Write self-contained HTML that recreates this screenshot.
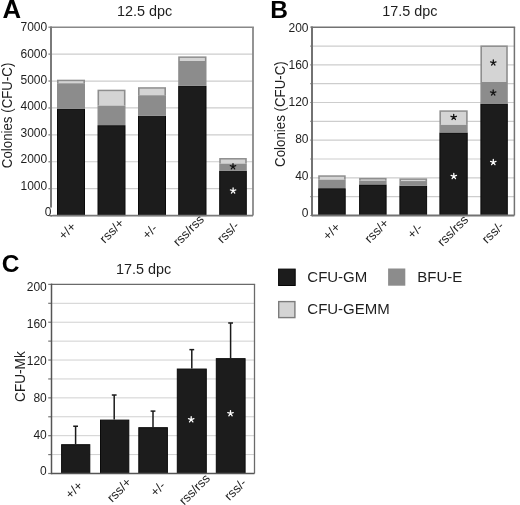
<!DOCTYPE html><html><head><meta charset="utf-8"><style>html,body{margin:0;padding:0;background:#fff;}svg{display:block;will-change:transform;}text{font-family:"Liberation Sans",sans-serif;fill:#1e1e1e;}</style></head><body>
<svg width="520" height="505" viewBox="0 0 520 505">
<rect width="520" height="505" fill="#fff"/>
<line x1="51" y1="188.69" x2="253" y2="188.69" stroke="#cdcdcd" stroke-width="1.2"/>
<line x1="51" y1="161.77" x2="253" y2="161.77" stroke="#cdcdcd" stroke-width="1.2"/>
<line x1="51" y1="134.86" x2="253" y2="134.86" stroke="#cdcdcd" stroke-width="1.2"/>
<line x1="51" y1="107.94" x2="253" y2="107.94" stroke="#cdcdcd" stroke-width="1.2"/>
<line x1="51" y1="81.03" x2="253" y2="81.03" stroke="#cdcdcd" stroke-width="1.2"/>
<line x1="51" y1="54.11" x2="253" y2="54.11" stroke="#cdcdcd" stroke-width="1.2"/>
<line x1="51" y1="27.2" x2="253.9" y2="27.2" stroke="#888" stroke-width="1.6"/>
<line x1="253" y1="27.2" x2="253" y2="215.6" stroke="#888" stroke-width="1.8"/>
<line x1="48.4" y1="215.60" x2="51" y2="215.60" stroke="#7a7a7a" stroke-width="1.2"/>
<line x1="48.4" y1="188.69" x2="51" y2="188.69" stroke="#7a7a7a" stroke-width="1.2"/>
<line x1="48.4" y1="161.77" x2="51" y2="161.77" stroke="#7a7a7a" stroke-width="1.2"/>
<line x1="48.4" y1="134.86" x2="51" y2="134.86" stroke="#7a7a7a" stroke-width="1.2"/>
<line x1="48.4" y1="107.94" x2="51" y2="107.94" stroke="#7a7a7a" stroke-width="1.2"/>
<line x1="48.4" y1="81.03" x2="51" y2="81.03" stroke="#7a7a7a" stroke-width="1.2"/>
<line x1="48.4" y1="54.11" x2="51" y2="54.11" stroke="#7a7a7a" stroke-width="1.2"/>
<line x1="48.4" y1="27.20" x2="51" y2="27.20" stroke="#7a7a7a" stroke-width="1.2"/>
<rect x="57.5" y="109.41" width="27.00" height="106.19" fill="#1c1c1c" stroke="#0a0a0a" stroke-width="1"/>
<rect x="57" y="83.18" width="28.00" height="25.73" fill="#8c8c8c"/>
<rect x="57" y="79.68" width="28.00" height="3.50" fill="#8e8e8e"/>
<rect x="58.6" y="81.18" width="24.80" height="2.00" fill="#d4d4d4"/>
<rect x="98.0" y="125.67" width="27.00" height="89.93" fill="#1c1c1c" stroke="#0a0a0a" stroke-width="1"/>
<rect x="97.5" y="105.66" width="28.00" height="19.51" fill="#8c8c8c"/>
<rect x="97.5" y="89.67" width="28.00" height="15.99" fill="#8e8e8e"/>
<rect x="99.1" y="91.17" width="24.80" height="14.49" fill="#d4d4d4"/>
<rect x="138.5" y="116.17" width="27.00" height="99.43" fill="#1c1c1c" stroke="#0a0a0a" stroke-width="1"/>
<rect x="138" y="95.16" width="28.00" height="20.51" fill="#8c8c8c"/>
<rect x="138" y="87.19" width="28.00" height="7.97" fill="#8e8e8e"/>
<rect x="139.6" y="88.69" width="24.80" height="6.47" fill="#d4d4d4"/>
<rect x="178.7" y="86.37" width="27.30" height="129.23" fill="#1c1c1c" stroke="#0a0a0a" stroke-width="1"/>
<rect x="178.2" y="61.00" width="28.30" height="24.87" fill="#8c8c8c"/>
<rect x="178.2" y="56.40" width="28.30" height="4.60" fill="#8e8e8e"/>
<rect x="179.79999999999998" y="57.90" width="25.10" height="3.10" fill="#d4d4d4"/>
<rect x="219.7" y="171.13" width="26.60" height="44.47" fill="#1c1c1c" stroke="#0a0a0a" stroke-width="1"/>
<rect x="219.2" y="163.63" width="27.60" height="7.00" fill="#8c8c8c"/>
<rect x="219.2" y="158.03" width="27.60" height="5.60" fill="#8e8e8e"/>
<rect x="220.79999999999998" y="159.53" width="24.40" height="4.10" fill="#d4d4d4"/>
<line x1="51" y1="26.4" x2="51" y2="216.4" stroke="#7a7a7a" stroke-width="2"/>
<line x1="51" y1="215.6" x2="253" y2="215.6" stroke="#7a7a7a" stroke-width="1.8"/>
<text x="47.2" y="185.75" text-anchor="end" dominant-baseline="central" font-size="12">1000</text>
<text x="47.2" y="159.30" text-anchor="end" dominant-baseline="central" font-size="12">2000</text>
<text x="47.2" y="132.85" text-anchor="end" dominant-baseline="central" font-size="12">3000</text>
<text x="47.2" y="106.40" text-anchor="end" dominant-baseline="central" font-size="12">4000</text>
<text x="47.2" y="79.95" text-anchor="end" dominant-baseline="central" font-size="12">5000</text>
<text x="47.2" y="53.50" text-anchor="end" dominant-baseline="central" font-size="12">6000</text>
<text x="47.2" y="27.05" text-anchor="end" dominant-baseline="central" font-size="12">7000</text>
<rect x="49" y="207.6" width="3.6" height="7.4" fill="#fff"/>
<text x="51.4" y="212.40" text-anchor="end" dominant-baseline="central" font-size="12">0</text>
<text transform="translate(70.30,233.90) rotate(-45)" text-anchor="middle" font-size="12.8">+/+</text>
<text transform="translate(114.80,233.95) rotate(-45)" text-anchor="middle" font-size="12.8">rss/+</text>
<text transform="translate(152.85,234.60) rotate(-45)" text-anchor="middle" font-size="12.8">+/-</text>
<text transform="translate(191.45,233.60) rotate(-45)" text-anchor="middle" font-size="12.8">rss/rss</text>
<text transform="translate(231.10,235.30) rotate(-45)" text-anchor="middle" font-size="12.8">rss/-</text>
<text x="144.5" y="15.5" text-anchor="middle" font-size="14.4">12.5 dpc</text>
<text transform="translate(11.9,115.4) rotate(-90) scale(1,1.05)" text-anchor="middle" font-size="13.3">Colonies (CFU-C)</text>
<text transform="translate(2.5,17.9) scale(1.05,1.05)" font-size="24.5" font-weight="bold" style="fill:#000">A</text>
<path d="M233.00 166.55L233.00 163.70M233.00 166.55L235.71 165.67M233.00 166.55L234.68 168.86M233.00 166.55L231.32 168.86M233.00 166.55L230.29 165.67" stroke="#111" stroke-width="1.3" stroke-linecap="round" fill="none"/>
<path d="M233.10 190.75L233.10 187.90M233.10 190.75L235.81 189.87M233.10 190.75L234.78 193.06M233.10 190.75L231.42 193.06M233.10 190.75L230.39 189.87" stroke="#fff" stroke-width="1.3" stroke-linecap="round" fill="none"/>
<line x1="312" y1="196.67" x2="514.4" y2="196.67" stroke="#cdcdcd" stroke-width="1.2"/>
<line x1="312" y1="177.84" x2="514.4" y2="177.84" stroke="#cdcdcd" stroke-width="1.2"/>
<line x1="312" y1="159.01" x2="514.4" y2="159.01" stroke="#cdcdcd" stroke-width="1.2"/>
<line x1="312" y1="140.18" x2="514.4" y2="140.18" stroke="#cdcdcd" stroke-width="1.2"/>
<line x1="312" y1="121.35" x2="514.4" y2="121.35" stroke="#cdcdcd" stroke-width="1.2"/>
<line x1="312" y1="102.52" x2="514.4" y2="102.52" stroke="#cdcdcd" stroke-width="1.2"/>
<line x1="312" y1="83.69" x2="514.4" y2="83.69" stroke="#cdcdcd" stroke-width="1.2"/>
<line x1="312" y1="64.86" x2="514.4" y2="64.86" stroke="#cdcdcd" stroke-width="1.2"/>
<line x1="312" y1="46.03" x2="514.4" y2="46.03" stroke="#cdcdcd" stroke-width="1.2"/>
<line x1="312" y1="27.2" x2="515.15" y2="27.2" stroke="#727272" stroke-width="1.5"/>
<line x1="514.4" y1="27.2" x2="514.4" y2="215.5" stroke="#727272" stroke-width="1.5"/>
<line x1="310.4" y1="215.50" x2="312" y2="215.50" stroke="#666" stroke-width="1.2"/>
<line x1="310.4" y1="196.67" x2="312" y2="196.67" stroke="#666" stroke-width="1.2"/>
<line x1="310.4" y1="177.84" x2="312" y2="177.84" stroke="#666" stroke-width="1.2"/>
<line x1="310.4" y1="159.01" x2="312" y2="159.01" stroke="#666" stroke-width="1.2"/>
<line x1="310.4" y1="140.18" x2="312" y2="140.18" stroke="#666" stroke-width="1.2"/>
<line x1="310.4" y1="121.35" x2="312" y2="121.35" stroke="#666" stroke-width="1.2"/>
<line x1="310.4" y1="102.52" x2="312" y2="102.52" stroke="#666" stroke-width="1.2"/>
<line x1="310.4" y1="83.69" x2="312" y2="83.69" stroke="#666" stroke-width="1.2"/>
<line x1="310.4" y1="64.86" x2="312" y2="64.86" stroke="#666" stroke-width="1.2"/>
<line x1="310.4" y1="46.03" x2="312" y2="46.03" stroke="#666" stroke-width="1.2"/>
<line x1="310.4" y1="27.20" x2="312" y2="27.20" stroke="#666" stroke-width="1.2"/>
<rect x="318.7" y="188.70" width="26.50" height="26.80" fill="#1c1c1c" stroke="#0a0a0a" stroke-width="1"/>
<rect x="318.2" y="179.72" width="27.50" height="8.47" fill="#8c8c8c"/>
<rect x="318.2" y="175.30" width="27.50" height="4.43" fill="#8e8e8e"/>
<rect x="319.8" y="176.80" width="24.30" height="2.93" fill="#d4d4d4"/>
<rect x="359.6" y="184.93" width="26.50" height="30.57" fill="#1c1c1c" stroke="#0a0a0a" stroke-width="1"/>
<rect x="359.1" y="180.66" width="27.50" height="3.77" fill="#8c8c8c"/>
<rect x="359.1" y="177.93" width="27.50" height="2.73" fill="#8e8e8e"/>
<rect x="360.70000000000005" y="179.43" width="24.30" height="1.23" fill="#d4d4d4"/>
<rect x="399.9" y="186.15" width="26.70" height="29.35" fill="#1c1c1c" stroke="#0a0a0a" stroke-width="1"/>
<rect x="399.4" y="181.04" width="27.70" height="4.61" fill="#8c8c8c"/>
<rect x="399.4" y="178.40" width="27.70" height="2.64" fill="#8e8e8e"/>
<rect x="401.0" y="179.90" width="24.50" height="1.14" fill="#d4d4d4"/>
<rect x="439.9" y="132.96" width="27.30" height="82.54" fill="#1c1c1c" stroke="#0a0a0a" stroke-width="1"/>
<rect x="439.4" y="124.93" width="28.30" height="7.53" fill="#8c8c8c"/>
<rect x="439.4" y="110.33" width="28.30" height="14.59" fill="#8e8e8e"/>
<rect x="441.0" y="111.83" width="25.10" height="13.09" fill="#d4d4d4"/>
<rect x="480.9" y="104.06" width="26.40" height="111.44" fill="#1c1c1c" stroke="#0a0a0a" stroke-width="1"/>
<rect x="480.4" y="82.00" width="27.40" height="21.56" fill="#8c8c8c"/>
<rect x="480.4" y="45.47" width="27.40" height="36.53" fill="#8e8e8e"/>
<rect x="482.0" y="46.97" width="24.20" height="35.03" fill="#d4d4d4"/>
<line x1="312" y1="26.4" x2="312" y2="216.3" stroke="#727272" stroke-width="2"/>
<line x1="312" y1="215.5" x2="514.4" y2="215.5" stroke="#727272" stroke-width="1.8"/>
<text x="308.5" y="212.50" text-anchor="end" dominant-baseline="central" font-size="12">0</text>
<text x="308.5" y="175.60" text-anchor="end" dominant-baseline="central" font-size="12">40</text>
<text x="308.5" y="138.70" text-anchor="end" dominant-baseline="central" font-size="12">80</text>
<text x="308.5" y="101.80" text-anchor="end" dominant-baseline="central" font-size="12">120</text>
<text x="308.5" y="64.90" text-anchor="end" dominant-baseline="central" font-size="12">160</text>
<text x="308.5" y="28.00" text-anchor="end" dominant-baseline="central" font-size="12">200</text>
<text transform="translate(334.50,234.40) rotate(-45)" text-anchor="middle" font-size="12.8">+/+</text>
<text transform="translate(379.60,233.80) rotate(-45)" text-anchor="middle" font-size="12.8">rss/+</text>
<text transform="translate(418.00,234.20) rotate(-45)" text-anchor="middle" font-size="12.8">+/-</text>
<text transform="translate(455.70,233.70) rotate(-45)" text-anchor="middle" font-size="12.8">rss/rss</text>
<text transform="translate(495.90,235.50) rotate(-45)" text-anchor="middle" font-size="12.8">rss/-</text>
<text x="409.8" y="15.5" text-anchor="middle" font-size="14.4">17.5 dpc</text>
<text transform="translate(284.8,114.1) rotate(-90) scale(1,1.05)" text-anchor="middle" font-size="13.3">Colonies (CFU-C)</text>
<text x="270.2" y="17.8" font-size="24.5" font-weight="bold" style="fill:#000">B</text>
<path d="M453.70 117.15L453.70 114.30M453.70 117.15L456.41 116.27M453.70 117.15L455.38 119.46M453.70 117.15L452.02 119.46M453.70 117.15L450.99 116.27" stroke="#111" stroke-width="1.3" stroke-linecap="round" fill="none"/>
<path d="M453.80 176.35L453.80 173.50M453.80 176.35L456.51 175.47M453.80 176.35L455.48 178.66M453.80 176.35L452.12 178.66M453.80 176.35L451.09 175.47" stroke="#fff" stroke-width="1.3" stroke-linecap="round" fill="none"/>
<path d="M493.30 62.75L493.30 59.90M493.30 62.75L496.01 61.87M493.30 62.75L494.98 65.06M493.30 62.75L491.62 65.06M493.30 62.75L490.59 61.87" stroke="#111" stroke-width="1.3" stroke-linecap="round" fill="none"/>
<path d="M493.20 92.75L493.20 89.90M493.20 92.75L495.91 91.87M493.20 92.75L494.88 95.06M493.20 92.75L491.52 95.06M493.20 92.75L490.49 91.87" stroke="#111" stroke-width="1.3" stroke-linecap="round" fill="none"/>
<path d="M493.30 162.35L493.30 159.50M493.30 162.35L496.01 161.47M493.30 162.35L494.98 164.66M493.30 162.35L491.62 164.66M493.30 162.35L490.59 161.47" stroke="#fff" stroke-width="1.3" stroke-linecap="round" fill="none"/>
<line x1="51.5" y1="454.59" x2="254.5" y2="454.59" stroke="#d0d0d0" stroke-width="1.0"/>
<line x1="51.5" y1="435.68" x2="254.5" y2="435.68" stroke="#d0d0d0" stroke-width="1.0"/>
<line x1="51.5" y1="416.77" x2="254.5" y2="416.77" stroke="#d0d0d0" stroke-width="1.0"/>
<line x1="51.5" y1="397.86" x2="254.5" y2="397.86" stroke="#d0d0d0" stroke-width="1.0"/>
<line x1="51.5" y1="378.95" x2="254.5" y2="378.95" stroke="#d0d0d0" stroke-width="1.0"/>
<line x1="51.5" y1="360.04" x2="254.5" y2="360.04" stroke="#d0d0d0" stroke-width="1.0"/>
<line x1="51.5" y1="341.13" x2="254.5" y2="341.13" stroke="#d0d0d0" stroke-width="1.0"/>
<line x1="51.5" y1="322.22" x2="254.5" y2="322.22" stroke="#d0d0d0" stroke-width="1.0"/>
<line x1="51.5" y1="303.31" x2="254.5" y2="303.31" stroke="#d0d0d0" stroke-width="1.0"/>
<line x1="51.5" y1="284.4" x2="255.15" y2="284.4" stroke="#6a6a6a" stroke-width="1.3"/>
<line x1="254.5" y1="284.4" x2="254.5" y2="473.5" stroke="#6a6a6a" stroke-width="1.3"/>
<line x1="48.2" y1="473.50" x2="51.5" y2="473.50" stroke="#777" stroke-width="1.2"/>
<line x1="48.2" y1="454.59" x2="51.5" y2="454.59" stroke="#777" stroke-width="1.2"/>
<line x1="48.2" y1="435.68" x2="51.5" y2="435.68" stroke="#777" stroke-width="1.2"/>
<line x1="48.2" y1="416.77" x2="51.5" y2="416.77" stroke="#777" stroke-width="1.2"/>
<line x1="48.2" y1="397.86" x2="51.5" y2="397.86" stroke="#777" stroke-width="1.2"/>
<line x1="48.2" y1="378.95" x2="51.5" y2="378.95" stroke="#777" stroke-width="1.2"/>
<line x1="48.2" y1="360.04" x2="51.5" y2="360.04" stroke="#777" stroke-width="1.2"/>
<line x1="48.2" y1="341.13" x2="51.5" y2="341.13" stroke="#777" stroke-width="1.2"/>
<line x1="48.2" y1="322.22" x2="51.5" y2="322.22" stroke="#777" stroke-width="1.2"/>
<line x1="48.2" y1="303.31" x2="51.5" y2="303.31" stroke="#777" stroke-width="1.2"/>
<line x1="48.2" y1="284.40" x2="51.5" y2="284.40" stroke="#777" stroke-width="1.2"/>
<line x1="75.6" y1="426.23" x2="75.6" y2="444.19" stroke="#1a1a1a" stroke-width="1.5"/>
<line x1="73.19999999999999" y1="426.23" x2="78.0" y2="426.23" stroke="#1a1a1a" stroke-width="1.5"/>
<rect x="61.6" y="444.69" width="28.20" height="28.81" fill="#1c1c1c" stroke="#0a0a0a" stroke-width="1"/>
<line x1="114.2" y1="395.02" x2="114.2" y2="419.61" stroke="#1a1a1a" stroke-width="1.5"/>
<line x1="111.8" y1="395.02" x2="116.60000000000001" y2="395.02" stroke="#1a1a1a" stroke-width="1.5"/>
<rect x="100.5" y="420.11" width="28.30" height="53.39" fill="#1c1c1c" stroke="#0a0a0a" stroke-width="1"/>
<line x1="153" y1="411.10" x2="153" y2="427.17" stroke="#1a1a1a" stroke-width="1.5"/>
<line x1="150.6" y1="411.10" x2="155.4" y2="411.10" stroke="#1a1a1a" stroke-width="1.5"/>
<rect x="138.8" y="427.67" width="28.60" height="45.83" fill="#1c1c1c" stroke="#0a0a0a" stroke-width="1"/>
<line x1="191.8" y1="349.64" x2="191.8" y2="368.55" stroke="#1a1a1a" stroke-width="1.5"/>
<line x1="189.4" y1="349.64" x2="194.20000000000002" y2="349.64" stroke="#1a1a1a" stroke-width="1.5"/>
<rect x="177.3" y="369.05" width="29.00" height="104.45" fill="#1c1c1c" stroke="#0a0a0a" stroke-width="1"/>
<line x1="230.6" y1="322.98" x2="230.6" y2="358.15" stroke="#1a1a1a" stroke-width="1.5"/>
<line x1="228.2" y1="322.98" x2="233.0" y2="322.98" stroke="#1a1a1a" stroke-width="1.5"/>
<rect x="216.3" y="358.65" width="28.80" height="114.85" fill="#1c1c1c" stroke="#0a0a0a" stroke-width="1"/>
<line x1="51.5" y1="283.59999999999997" x2="51.5" y2="474.3" stroke="#555" stroke-width="1.5"/>
<line x1="51.5" y1="473.5" x2="254.5" y2="473.5" stroke="#555" stroke-width="1.3"/>
<text x="46.8" y="471.40" text-anchor="end" dominant-baseline="central" font-size="12">0</text>
<text x="46.8" y="434.50" text-anchor="end" dominant-baseline="central" font-size="12">40</text>
<text x="46.8" y="397.60" text-anchor="end" dominant-baseline="central" font-size="12">80</text>
<text x="46.8" y="360.70" text-anchor="end" dominant-baseline="central" font-size="12">120</text>
<text x="46.8" y="323.80" text-anchor="end" dominant-baseline="central" font-size="12">160</text>
<text x="46.8" y="286.90" text-anchor="end" dominant-baseline="central" font-size="12">200</text>
<text transform="translate(77.00,493.00) rotate(-45)" text-anchor="middle" font-size="12.8">+/+</text>
<text transform="translate(122.20,493.00) rotate(-45)" text-anchor="middle" font-size="12.8">rss/+</text>
<text transform="translate(160.80,491.80) rotate(-45)" text-anchor="middle" font-size="12.8">+/-</text>
<text transform="translate(197.50,492.50) rotate(-45)" text-anchor="middle" font-size="12.8">rss/rss</text>
<text transform="translate(238.40,492.50) rotate(-45)" text-anchor="middle" font-size="12.8">rss/-</text>
<text x="143.5" y="274.1" text-anchor="middle" font-size="14.4">17.5 dpc</text>
<text transform="translate(24.9,376.6) rotate(-90) scale(1,1.06)" text-anchor="middle" font-size="13.6">CFU-Mk</text>
<text x="1.8" y="272.3" font-size="24.5" font-weight="bold" style="fill:#000">C</text>
<path d="M191.20 419.60L191.20 416.75M191.20 419.60L193.91 418.72M191.20 419.60L192.88 421.91M191.20 419.60L189.52 421.91M191.20 419.60L188.49 418.72" stroke="#fff" stroke-width="1.3" stroke-linecap="round" fill="none"/>
<path d="M230.50 413.45L230.50 410.60M230.50 413.45L233.21 412.57M230.50 413.45L232.18 415.76M230.50 413.45L228.82 415.76M230.50 413.45L227.79 412.57" stroke="#fff" stroke-width="1.3" stroke-linecap="round" fill="none"/>
<rect x="278.6" y="269.1" width="16.6" height="16.4" fill="#1c1c1c" stroke="#050505" stroke-width="1"/>
<text x="307.3" y="282" font-size="15">CFU-GM</text>
<rect x="388.1" y="268.5" width="17.2" height="17.2" fill="#8c8c8c"/>
<text x="417.3" y="282" font-size="15">BFU-E</text>
<rect x="278.7" y="301.6" width="16.2" height="16" fill="#d4d4d4" stroke="#7c7c7c" stroke-width="1.4"/>
<text x="307.3" y="314.3" font-size="15">CFU-GEMM</text>
</svg></body></html>
